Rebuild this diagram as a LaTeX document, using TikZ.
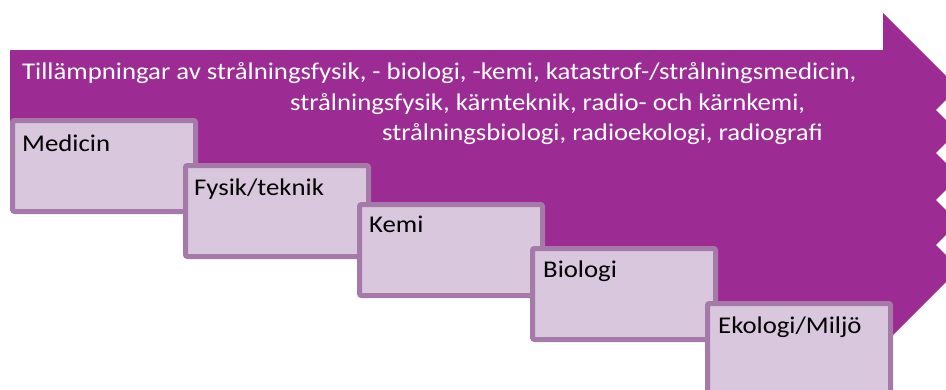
\documentclass[tikz,border=0pt]{standalone}
\usepackage{fontspec}
\setmainfont{Carlito}
\definecolor{bandpurple}{RGB}{156,44,148}
\definecolor{boxfill}{RGB}{217,199,221}
\definecolor{boxline}{RGB}{166,122,168}
\newcommand{\stretchtxt}[1]{\scalebox{1.115}[1]{#1}}
\begin{document}
\begin{tikzpicture}[x=1pt,y=-1pt,
  bandtxt/.style={anchor=base west,inner sep=0pt,text=white,font=\fontsize{24}{28}\selectfont},
  lbl/.style={anchor=base west,inner sep=0pt,text=black,font=\fontsize{24}{28}\selectfont},
  stepbox/.style={draw=boxline,fill=boxfill,line width=5pt,rounded corners=2pt}]
\useasboundingbox (0,0) rectangle (946,389);
\begin{scope}
\clip (0,0) rectangle (946,389);
% big arrow band
\fill[bandpurple] (10,50) -- (883,50) -- (883,13) -- (1049,179) -- (883,345)
  -- (880,330) -- (710,330) -- (710,280) -- (540,280) -- (540,230) -- (365,230)
  -- (365,190) -- (190,190) -- (190,140) -- (10,140) -- cycle;
% notches on the right edge
\foreach \yy in {110,153,200,245}{
  \fill[white] (936,\yy) -- (950,\yy-14) -- (950,\yy+14) -- cycle;
}
% step boxes
\draw[stepbox] (12.5,120.5) rectangle (195.5,211.5);
\draw[stepbox] (185.5,165.5) rectangle (368.5,256.5);
\draw[stepbox] (359.5,204.5) rectangle (542.5,295.5);
\draw[stepbox] (532.5,248.5) rectangle (715.5,339.5);
\draw[stepbox] (707.5,303.5) rectangle (890.5,394.5);
\end{scope}
% band text
\node[bandtxt] (t1) at (22,79) {\stretchtxt{Tillämpningar av strålningsfysik, - biologi, -kemi, katastrof-/strålningsmedicin,}};
\node[bandtxt] (t2) at (290,110) {\stretchtxt{strålningsfysik, kärnteknik, radio- och kärnkemi,}};
\node[bandtxt] (t3) at (382,140) {\stretchtxt{strålningsbiologi, radioekologi, radiografi}};
% box labels
\node[lbl] (l1) at (22,151) {\stretchtxt{Medicin}};
\node[lbl] (l2) at (194,195) {\stretchtxt{Fysik/teknik}};
\node[lbl] (l3) at (369,232) {\stretchtxt{Kemi}};
\node[lbl] (l4) at (543,277) {\stretchtxt{Biologi}};
\node[lbl] (l5) at (718,333) {\stretchtxt{Ekologi/Miljö}};
\end{tikzpicture}
\end{document}
